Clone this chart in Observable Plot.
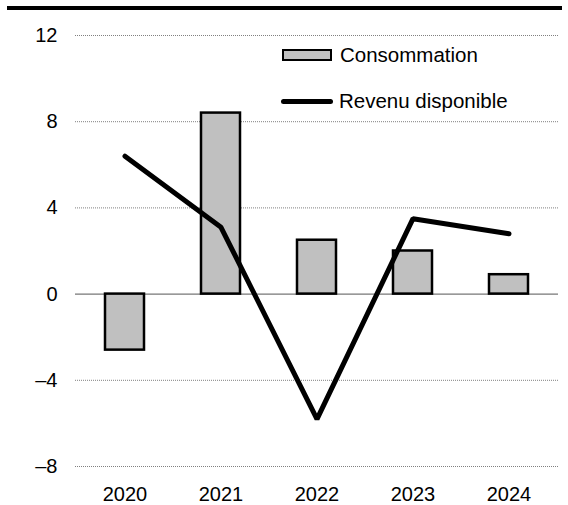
<!DOCTYPE html>
<html>
<head>
<meta charset="utf-8">
<script src="https://cdn.jsdelivr.net/npm/d3@7"></script>
<script src="https://cdn.jsdelivr.net/npm/@observablehq/plot@0.6"></script>
<style>
  html, body { margin: 0; padding: 0; background: #fff; }
  #wrap { position: relative; width: 568px; height: 505px; font-family: "Liberation Sans", Arial, sans-serif; }
  #rule { position: absolute; left: 7px; top: 6px; width: 555px; height: 4px; background: #000; }
  #legend { position: absolute; left: 0; top: 0; font-size: 20.5px; color: #000; }
  .item { position: absolute; display: flex; align-items: center; white-space: nowrap; }
  .sw-bar { width: 46px; height: 8px; background: #c0c0c0; border: 2.5px solid #000; margin-right: 8px; }
  .sw-line { width: 52px; height: 5px; background: #000; border-radius: 3px; margin-right: 6px; }
</style>
</head>
<body>
<div id="wrap">
  <div id="chart"></div>
  <div id="rule"></div>
  <div id="legend"></div>
</div>
<script>
const years = ["2020", "2021", "2022", "2023", "2024"];
const consommation = [-2.6, 8.4, 2.5, 2.0, 0.9];
const revenu = [6.4, 3.1, -5.8, 3.5, 2.8];
const yTicks = [12, 8, 4, 0, -4, -8];
const gridTicks = [12, 8, 4, -4, -8];
const legendLabels = ["Consommation", "Revenu disponible"];

const barData = years.map((y, i) => ({year: y, value: consommation[i]}));
const lineData = years.map((y, i) => ({year: y, value: revenu[i]}));

const fmt = d => (d < 0 ? "\u2013" + Math.abs(d) : String(d));

const chart = Plot.plot({
  width: 568,
  height: 505,
  marginLeft: 75,
  marginRight: 10,
  marginTop: 35,
  marginBottom: 39,
  style: {fontFamily: "'Liberation Sans', Arial, sans-serif", fontSize: "20px", color: "#000", background: "#fff"},
  x: {domain: years, paddingInner: 0.59, paddingOuter: 0.295, align: 0.5, label: null},
  y: {domain: [-8, 12], label: null},
  marks: [
    Plot.ruleY(gridTicks, {stroke: "#808080", strokeWidth: 1, strokeDasharray: "1,1"}),
    Plot.ruleY([0], {stroke: "#555", strokeWidth: 1}),
    Plot.barY(barData, {x: "year", y: "value", fill: "#c0c0c0", stroke: "#000", strokeWidth: 2.5}),
    Plot.line(lineData, {x: "year", y: "value", stroke: "#000", strokeWidth: 5, strokeLinecap: "round", strokeLinejoin: "miter"}),
    Plot.axisY(yTicks, {tickSize: 0, tickPadding: 18, tickFormat: fmt, label: null}),
    Plot.axisX({tickSize: 0, tickPadding: 20, label: null})
  ]
});
document.getElementById("chart").appendChild(chart);

const legend = document.getElementById("legend");
const items = [
  {label: legendLabels[0], cls: "sw-bar", left: 282, top: 43},
  {label: legendLabels[1], cls: "sw-line", left: 281, top: 89}
];
for (const it of items) {
  const d = document.createElement("div");
  d.className = "item";
  d.style.left = it.left + "px";
  d.style.top = it.top + "px";
  const sw = document.createElement("span");
  sw.className = it.cls;
  const t = document.createElement("span");
  t.textContent = it.label;
  d.appendChild(sw);
  d.appendChild(t);
  legend.appendChild(d);
}
</script>
</body>
</html>
